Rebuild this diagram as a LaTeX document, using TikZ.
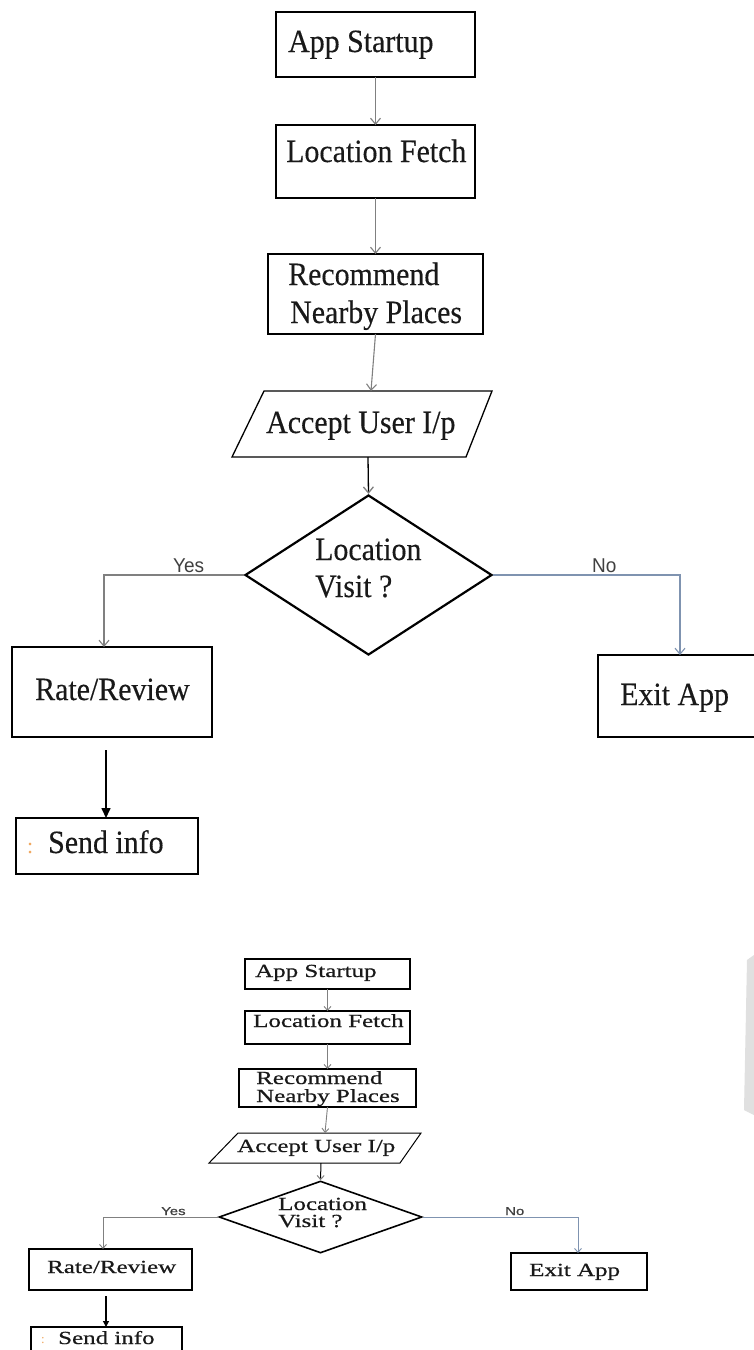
\documentclass[tikz,border=0pt]{standalone}
\usepackage{fontspec}
\setmainfont{Liberation Serif}
\newfontfamily\topserif[FakeStretch=0.92,FakeBold=0.3]{Liberation Serif}
\newfontfamily\topsans[FakeStretch=0.95]{Liberation Sans}
\newfontfamily\botserif[FakeStretch=1.35,FakeBold=0.6]{Liberation Serif}
\newfontfamily\botsans[FakeStretch=1.3,FakeBold=0.8]{Liberation Sans}
\usetikzlibrary{arrows.meta,shapes.geometric}
\definecolor{arrowgray}{HTML}{808080}
\definecolor{nogray}{HTML}{7F93B0}
\definecolor{colon}{HTML}{F0A860}
\begin{document}
\begin{tikzpicture}[x=1pt,y=-1pt,
  bigbox/.style={draw, line width=2.6pt, inner sep=0pt, outer sep=0pt, anchor=north west},
  smbox/.style={draw, line width=1.8pt, inner sep=0pt, outer sep=0pt, anchor=north west},
  tt/.style={anchor=base west, inner sep=0pt, text=black!90, font=\topserif\fontsize{32.5}{38}\selectfont},
  bt/.style={anchor=base west, inner sep=0pt, text=black!90, font=\botserif\fontsize{18.5}{22}\selectfont},
  tyn/.style={anchor=base west, inner sep=0pt, text=black!75, font=\topsans\fontsize{20}{22}\selectfont},
  byn/.style={anchor=base west, inner sep=0pt, text=black!75, font=\botsans\fontsize{11.5}{13}\selectfont},
  garrow/.style={draw=arrowgray, line width=1.1pt, -{Straight Barb[length=6pt,width=10pt]}},
  sgarrow/.style={draw=arrowgray, line width=0.9pt, -{Straight Barb[length=4pt,width=7pt]}},
  karrow/.style={draw=black, line width=1.6pt, -{Triangle[length=10pt,width=9pt]}},
  skarrow/.style={draw=black, line width=1.2pt, -{Triangle[length=6pt,width=6pt]}},
  colonmark/.style={anchor=base west, inner sep=0pt, text=colon},
]
\useasboundingbox (0,0) rectangle (754,1350);
\fill[white] (0,0) rectangle (754,1350);

% ================= TOP DIAGRAM =================
\node[bigbox, minimum width=199pt, minimum height=65pt] (a1) at (276,12) {};
\node[bigbox, minimum width=199pt, minimum height=73pt] (a2) at (276,125) {};
\node[bigbox, minimum width=215pt, minimum height=80pt] (a3) at (268,254) {};
\draw[line width=1.3pt] (264,391) -- (492,391) -- (466,457) -- (232,457) -- cycle;
\coordinate (p1top) at (371,391);
\coordinate (p1bot) at (368,457);
\node[diamond, draw, line width=2.2pt, minimum width=247pt, minimum height=160pt, inner sep=0pt] (d1) at (368.5,575) {};
\node[bigbox, minimum width=200pt, minimum height=90pt] (a6) at (12,647) {};
\node[bigbox, minimum width=157pt, minimum height=82pt] (a7) at (598,655) {};
\node[smbox, line width=1.6pt, minimum width=182pt, minimum height=56pt] (a8) at (16,818) {};

\node[tt] (t1) at (288,52) {App Startup};
\node[tt] (t2) at (286,162) {Location Fetch};
\node[tt] (t3a) at (288,285) {Recommend};
\node[tt] (t3b) at (290,323) {Nearby Places};
\node[tt] (t4) at (266,433) {Accept User I/p};
\node[tt] (t5a) at (315,560) {Location};
\node[tt] (t5b) at (315,597) {Visit ?};
\node[tt] (t6) at (35,700) {Rate/Review};
\node[tt] (t7) at (620,705) {Exit App};
\node[tt] (t8) at (48,853) {Send info};
\node[colonmark, font=\fontsize{22}{24}\selectfont] (c8) at (27,853) {:};
\node[tyn] (yes1) at (173,572) {Yes};
\node[tyn] (no1) at (592,572) {No};

\coordinate (y1) at (104,647);
\coordinate (n1) at (680,655);
\coordinate (r1) at (106,750);
\draw[garrow] (a1.south) -- (a2.north);
\draw[garrow] (a2.south) -- (a3.north);
\draw[garrow] (a3.south) -- (p1top);
\draw[black, line width=1.3pt, -{Straight Barb[length=6pt,width=10pt,color=arrowgray]}] (p1bot) -- (d1.north);
\draw[garrow] (d1.west) -| (y1);
\draw[garrow, draw=nogray] (d1.east) -| (n1);
\draw[karrow] (r1) -- (r1 |- a8.north);

% ================= BOTTOM DIAGRAM =================
\node[smbox, minimum width=165pt, minimum height=30pt] (b1) at (245,959) {};
\node[smbox, minimum width=165pt, minimum height=33pt] (b2) at (245,1011) {};
\node[smbox, minimum width=177pt, minimum height=38pt] (b3) at (239,1069) {};
\draw[line width=1pt] (238,1133) -- (421,1133) -- (400,1163) -- (209,1163) -- cycle;
\coordinate (q1top) at (325,1133);
\coordinate (q1bot) at (321,1163);
\node[diamond, draw, line width=1.6pt, minimum width=203pt, minimum height=72pt, inner sep=0pt] (d2) at (320.5,1217) {};
\node[smbox, minimum width=163pt, minimum height=41pt] (b6) at (29,1249) {};
\node[smbox, minimum width=136pt, minimum height=37pt] (b7) at (511,1253) {};
\node[smbox, line width=1.4pt, minimum width=151pt, minimum height=32pt] (b8) at (31,1327) {};

\node[bt] (s1) at (255,977) {App Startup};
\node[bt] (s2) at (253,1027) {Location Fetch};
\node[bt] (s3a) at (256,1084) {Recommend};
\node[bt] (s3b) at (256,1102) {Nearby Places};
\node[bt] (s4) at (237,1152) {Accept User I/p};
\node[bt] (s5a) at (278,1210) {Location};
\node[bt] (s5b) at (278,1227) {Visit ?};
\node[bt] (s6) at (47,1273) {Rate/Review};
\node[bt] (s7) at (529,1276) {Exit App};
\node[bt] (s8) at (58,1344) {Send info};
\node[colonmark, font=\fontsize{13}{15}\selectfont] (c9) at (41,1343) {:};
\node[byn] (yes2) at (161,1215) {Yes};
\node[byn] (no2) at (505,1215) {No};

\coordinate (yb) at (103,1249);
\coordinate (nb) at (578,1253);
\coordinate (rb) at (106,1296);
\draw[sgarrow] (b1.south) -- (b2.north);
\draw[sgarrow] (b2.south) -- (b3.north);
\draw[sgarrow] (b3.south) -- (q1top);
\draw[black, line width=1pt, -{Straight Barb[length=4pt,width=7pt,color=arrowgray]}] (q1bot) -- (d2.north);
\draw[sgarrow] (d2.west) -| (yb);
\draw[sgarrow, draw=nogray] (d2.east) -| (nb);
\draw[skarrow] (rb) -- (rb |- b8.north);

% faint page shadow at the right edge
\fill[black!12] (747,960) -- (754,955) -- (754,1115) -- (744,1110) -- cycle;
\end{tikzpicture}
\end{document}
